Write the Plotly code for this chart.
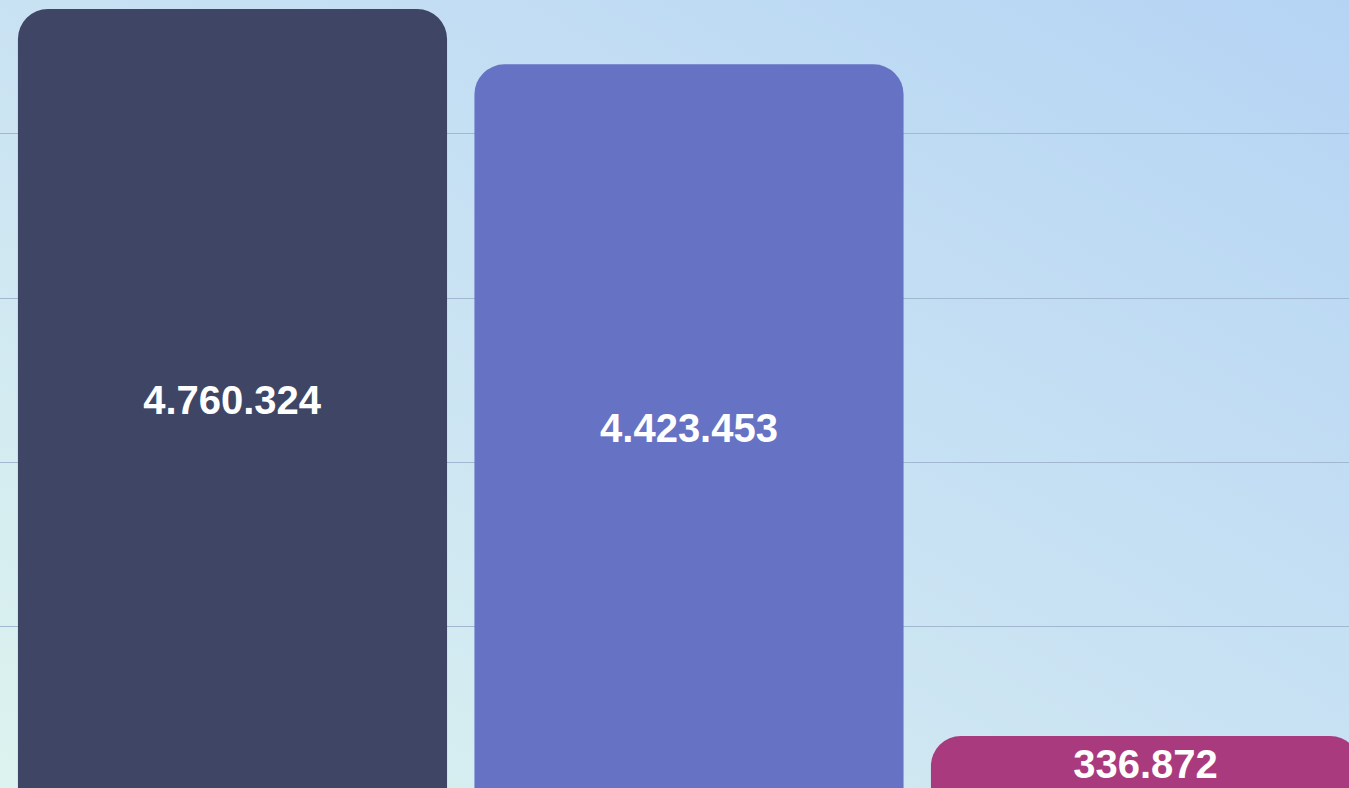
import base64
import plotly.graph_objects as go

categories = ["A", "B", "C"]
values = [4760324, 4423453, 336872]
bar_colors = ["#3f4565", "#6672c4", "#aa3a7e"]

svg = (
    '<svg xmlns="http://www.w3.org/2000/svg" width="1349" height="788" '
    'viewBox="0 0 1349 788" preserveAspectRatio="none">'
    '<defs><linearGradient id="g" x1="0" y1="1" x2="1" y2="0">'
    '<stop offset="0" stop-color="#ddf3ef"/>'
    '<stop offset="0.5" stop-color="#c9e2f3"/>'
    '<stop offset="1" stop-color="#b5d4f4"/>'
    '</linearGradient></defs>'
    '<rect width="1349" height="788" fill="url(#g)"/></svg>'
)
src = "data:image/svg+xml;base64," + base64.b64encode(svg.encode()).decode()

fig = go.Figure(
    go.Bar(
        x=list(range(len(categories))),
        y=values,
        marker=dict(color=bar_colors, cornerradius=30, line=dict(width=0)),
        width=0.94,
        texttemplate="%{y:,.0f}",
        textposition="inside",
        insidetextanchor="middle",
        constraintext="none",
        textfont=dict(family="Liberation Sans, Arial, sans-serif", size=40,
                      color="white", weight="bold"),
        hoverinfo="skip",
    )
)

fig.update_layout(
    width=1349,
    height=788,
    margin=dict(l=0, r=0, t=0, b=0),
    paper_bgcolor="rgba(0,0,0,0)",
    plot_bgcolor="rgba(0,0,0,0)",
    separators=",.",
    showlegend=False,
    images=[dict(source=src, xref="paper", yref="paper", x=0, y=1,
                 sizex=1, sizey=1, sizing="stretch", layer="below",
                 xanchor="left", yanchor="top")],
    xaxis=dict(range=[-0.5093, 2.4458], showgrid=False, zeroline=False,
               showticklabels=False, ticks=""),
    yaxis=dict(range=[20000, 4815000], showgrid=True, gridcolor="#a2b7d0",
               gridwidth=1, dtick=1000000, zeroline=False,
               showticklabels=False, ticks=""),
)

fig.write_html("out.html", config={"displayModeBar": False},
               post_script="document.body.style.margin='0';")
